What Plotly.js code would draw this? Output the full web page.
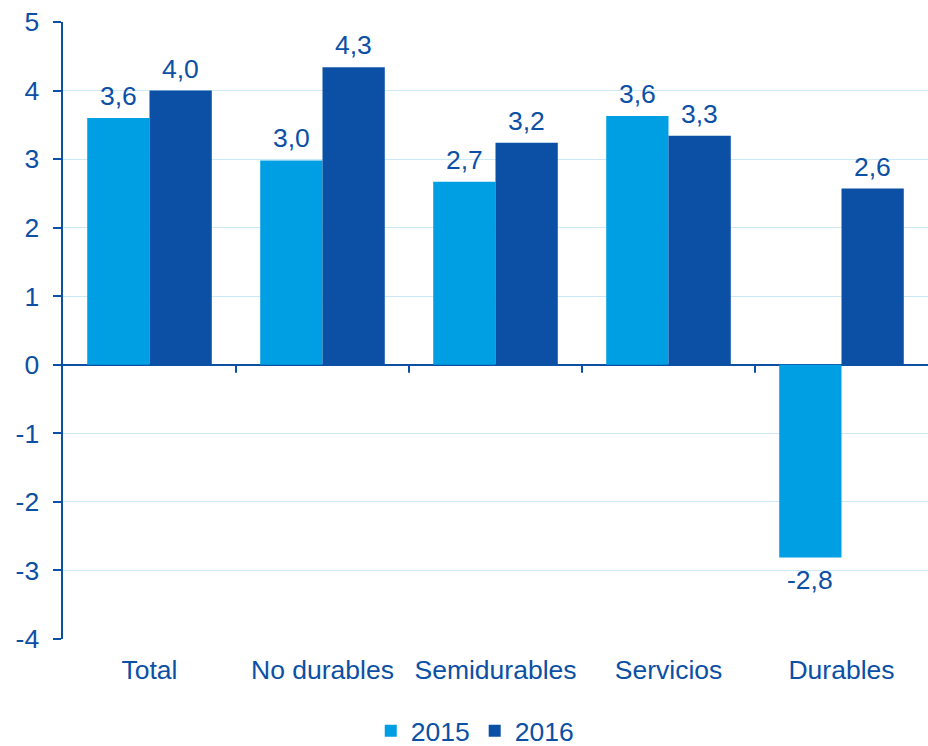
<!DOCTYPE html>
<html>
<head>
<meta charset="utf-8">
<script src="https://cdn.plot.ly/plotly-3.0.1.min.js"></script>
<style>html,body{margin:0;padding:0;background:#fff;}#chart{width:928px;height:746px;}</style>
</head>
<body>
<div id="chart"></div>
<script>
const categories = ["Total", "No durables", "Semidurables", "Servicios", "Durables"];
const values2015 = [3.6, 2.98, 2.67, 3.63, -2.81];
const values2016 = [4.0, 4.34, 3.24, 3.34, 2.57];
const seriesNames = ["2015", "2016"];
const yTicks = [-4, -3, -2, -1, 0, 1, 2, 3, 4, 5];

const C15 = "#009fe3", C16 = "#0b50a5", TXT = "#0b50a5";
const FONT = "Liberation Sans, Arial, sans-serif";
const FS = 26.5;
const fmt = v => v.toFixed(1).replace(".", ",");

const traces = [
  {type: "bar", name: seriesNames[0], x: categories, y: values2015, marker: {color: C15}, hoverinfo: "skip"},
  {type: "bar", name: seriesNames[1], x: categories, y: values2016, marker: {color: C16}, hoverinfo: "skip"}
];

const annotations = [];
const half = (1 - 0.28) / 4;
[values2015, values2016].forEach((vals, s) => {
  vals.forEach((v, i) => {
    annotations.push({
      x: i + (s === 0 ? -half : half), xref: "x", y: v, yref: "y",
      text: fmt(v), showarrow: false,
      yanchor: v >= 0 ? "bottom" : "top", yshift: v >= 0 ? 5 : -6,
      font: {family: FONT, size: FS, color: TXT}
    });
  });
});

const shapes = [];
for (let i = 0; i < categories.length - 1; i++) {
  shapes.push({type: "line", xref: "x", yref: "y", x0: i + 0.5, x1: i + 0.5,
    ysizemode: "pixel", yanchor: 0, y0: 0, y1: -8, line: {color: TXT, width: 2}});
}

const layout = {
  width: 928, height: 746,
  margin: {l: 63, r: 0, t: 22, b: 107, autoexpand: false},
  paper_bgcolor: "#fff", plot_bgcolor: "#fff",
  barmode: "group", bargap: 0.28, bargroupgap: 0,
  font: {family: FONT, size: FS, color: TXT},
  xaxis: {
    type: "category", showgrid: false, showline: false, ticks: "", automargin: false,
    tickfont: {family: FONT, size: FS, color: TXT}, ticklabelstandoff: 12,
    range: [-0.5, 4.5]
  },
  yaxis: {
    range: [-4, 5], tickvals: yTicks, ticktext: yTicks.map(String), automargin: false,
    showgrid: true, gridcolor: "#cbe9f7", gridwidth: 1,
    zeroline: true, zerolinecolor: TXT, zerolinewidth: 2.5,
    showline: true, linecolor: TXT, linewidth: 2.5,
    ticks: "outside", ticklen: 8, tickwidth: 2, tickcolor: TXT,
    tickfont: {family: FONT, size: FS, color: TXT}, ticklabelstandoff: 8
  },
  showlegend: true,
  legend: {orientation: "h", x: 0.476, xanchor: "center", yref: "container", y: 0.02, yanchor: "middle",
    font: {family: FONT, size: FS, color: TXT}, itemwidth: 30},
  annotations: annotations,
  shapes: shapes
};

Plotly.newPlot("chart", traces, layout, {staticPlot: true, displayModeBar: false});
</script>
</body>
</html>
